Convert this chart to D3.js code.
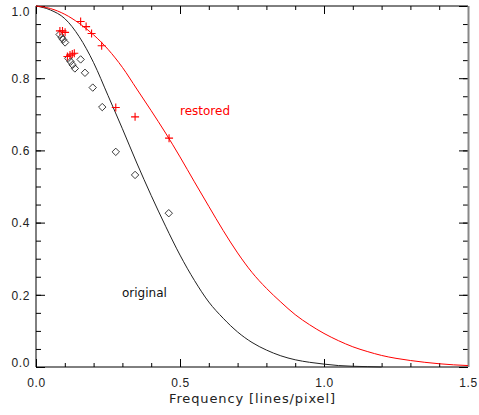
<!DOCTYPE html>
<html>
<head>
<meta charset="utf-8">
<script src="https://cdn.jsdelivr.net/npm/d3@7"></script>
<style>
  body { margin: 0; background: #fff; }
  svg { display: block; font-family: "DejaVu Sans", sans-serif; }
  .tick text { fill: #222; font-size: 12px; letter-spacing: 0.6px; }
  .tick line { stroke: #000; }
</style>
</head>
<body>
<svg id="chart" width="479" height="415"></svg>
<script>
const freqOriginal = [0, 0.05, 0.1, 0.15, 0.2, 0.25, 0.3, 0.35, 0.4, 0.45, 0.5, 0.55, 0.6,
  0.65, 0.7, 0.75, 0.8, 0.85, 0.9, 0.95, 1.0, 1.05, 1.1, 1.15, 1.2]
const mtfOriginal = [1.0, 0.989, 0.965, 0.915, 0.843, 0.752, 0.66, 0.565, 0.475, 0.39, 0.31,
  0.24, 0.18, 0.135, 0.097, 0.068, 0.047, 0.031, 0.02, 0.013, 0.008, 0.004, 0.002, 0.001, 0.0]

const freqRestored = [0, 0.05, 0.1, 0.15, 0.2, 0.25, 0.3, 0.35, 0.4, 0.45, 0.5, 0.55, 0.6,
  0.65, 0.7, 0.75, 0.8, 0.85, 0.9, 0.95, 1.0, 1.05, 1.1, 1.15, 1.2, 1.25, 1.3, 1.35, 1.4, 1.45, 1.5]
const mtfRestored = [1.0, 0.993, 0.977, 0.952, 0.92, 0.88, 0.83, 0.77, 0.71, 0.648, 0.582,
  0.513, 0.445, 0.378, 0.316, 0.262, 0.218, 0.18, 0.145, 0.117, 0.093, 0.073, 0.056, 0.043,
  0.032, 0.024, 0.018, 0.013, 0.009, 0.006, 0.004]

// measured points
const diamondFreq = [0.082, 0.089, 0.094, 0.101, 0.112, 0.120, 0.127, 0.135, 0.155, 0.170,
  0.197, 0.230, 0.277, 0.344, 0.461]
const diamondMtf = [0.921, 0.913, 0.907, 0.899, 0.855, 0.846, 0.837, 0.827, 0.852, 0.815,
  0.774, 0.720, 0.596, 0.532, 0.426]

const plusFreq = [0.083, 0.092, 0.101, 0.109, 0.118, 0.126, 0.133, 0.155, 0.174, 0.193,
  0.228, 0.277, 0.344, 0.462]
const plusMtf = [0.931, 0.931, 0.927, 0.860, 0.864, 0.867, 0.869, 0.957, 0.943, 0.924,
  0.890, 0.719, 0.693, 0.634]

const xMajor = [0, 0.5, 1.0, 1.5]
const xMinor = d3.range(0, 16).map(i => i / 10)
const yMajor = [0, 0.2, 0.4, 0.6, 0.8, 1.0]
const yMinor = d3.range(0, 21).map(i => i / 20)

const svg = d3.select('#chart')
const plotLeft = 36, plotRight = 468, plotTop = 6, plotBottom = 367

const x = d3.scaleLinear().domain([0, 1.5]).range([plotLeft, plotRight])
const y = d3.scaleLinear().domain([0, 1]).range([plotBottom, plotTop])

const fmt = d3.format('.1f')

// ticks: minor ones first, then majors with labels
const tickAxis = (axis, vals, size, transform, fmtFn) => {
  const g = svg.append('g')
    .attr('transform', transform)
    .call(axis.tickValues(vals).tickSizeInner(size).tickSizeOuter(0).tickFormat(fmtFn))
  g.select('.domain').remove()
  return g
}

tickAxis(d3.axisBottom(x), xMinor, -4, `translate(0,${plotBottom})`, () => '')
tickAxis(d3.axisTop(x), xMinor, -4, `translate(0,${plotTop})`, () => '')
tickAxis(d3.axisTop(x), xMajor, -8, `translate(0,${plotTop})`, () => '')
tickAxis(d3.axisBottom(x), xMajor, -8, `translate(0,${plotBottom})`, fmt)
  .selectAll('.tick text').attr('dy', '0.71em').attr('y', 11)

tickAxis(d3.axisLeft(y), yMinor, -5, `translate(${plotLeft},0)`, () => '')
tickAxis(d3.axisRight(y), yMinor, -5, `translate(${plotRight},0)`, () => '')
tickAxis(d3.axisRight(y), yMajor, -9, `translate(${plotRight},0)`, () => '')
tickAxis(d3.axisLeft(y), yMajor, -9, `translate(${plotLeft},0)`, fmt)
  .selectAll('.tick text')
  .attr('x', -6)
  .attr('dy', d => d === 1 ? '0.8em' : d === 0 ? '-0.05em' : '0.36em')

// frame
svg.append('path')
  .attr('d', `M${plotRight},${plotTop}H${plotLeft}V${plotBottom}H${plotRight}`)
  .attr('fill', 'none').attr('stroke', '#000')
svg.append('line')
  .attr('x1', plotRight + 0.5).attr('x2', plotRight + 0.5)
  .attr('y1', plotTop).attr('y2', plotBottom)
  .attr('stroke', '#888').attr('stroke-width', 2)

// curves
const line = d3.line().x(d => x(d[0])).y(d => y(d[1])).curve(d3.curveMonotoneX)

svg.append('path')
  .datum(d3.zip(freqOriginal, mtfOriginal))
  .attr('d', line)
  .attr('fill', 'none').attr('stroke', '#222').attr('stroke-width', 1)

svg.append('path')
  .datum(d3.zip(freqRestored, mtfRestored))
  .attr('d', line)
  .attr('fill', 'none').attr('stroke', '#ff0000').attr('stroke-width', 1)

// diamonds
svg.append('g').selectAll('path')
  .data(d3.zip(diamondFreq, diamondMtf))
  .join('path')
  .attr('transform', d => `translate(${x(d[0])},${y(d[1])})`)
  .attr('d', 'M0,-3.7L3.7,0L0,3.7L-3.7,0Z')
  .attr('fill', 'none').attr('stroke', '#222').attr('stroke-width', 0.9)

// plus signs
svg.append('g').selectAll('path')
  .data(d3.zip(plusFreq, plusMtf))
  .join('path')
  .attr('transform', d => `translate(${x(d[0])},${y(d[1])})`)
  .attr('d', 'M-4,0H4M0,-4V4')
  .attr('fill', 'none').attr('stroke', '#ff0000').attr('stroke-width', 1.1)

// labels
svg.append('text')
  .attr('x', 180).attr('y', 115)
  .attr('fill', '#ff0000').attr('font-size', 12)
  .text('restored')

svg.append('text')
  .attr('x', 122).attr('y', 297)
  .attr('fill', '#111').attr('font-size', 12)
  .text('original')

svg.append('text')
  .attr('x', 169).attr('y', 403)
  .attr('fill', '#222').attr('font-size', 13)
  .attr('textLength', 166).attr('lengthAdjust', 'spacing')
  .text('Frequency [lines/pixel]')
</script>
</body>
</html>
